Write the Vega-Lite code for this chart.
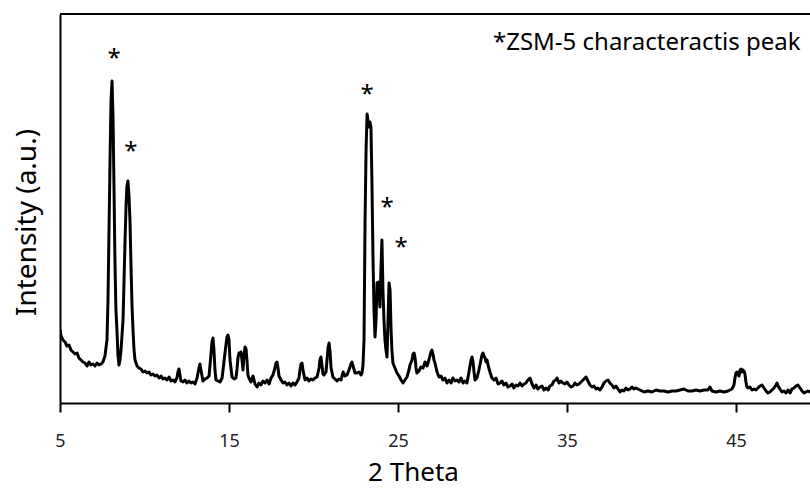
{
  "$schema": "https://vega.github.io/schema/vega-lite/v6.json",
  "width": 750,
  "height": 389,
  "autosize": {"type": "none"},
  "padding": {"left": 60, "top": 14, "right": 0, "bottom": 85},
  "background": "white",
  "config": {"view": {"stroke": null}, "font": "Noto Sans"},
  "datasets": {
    "xrd": [
      {"t":5.00,"i":73},{"t":5.06,"i":67},{"t":5.18,"i":63},{"t":5.30,"i":61},{"t":5.41,"i":57},{"t":5.53,"i":58},{"t":5.65,"i":53},{"t":5.77,"i":51},{"t":5.89,"i":49},{"t":6.01,"i":50},{"t":6.12,"i":45},{"t":6.24,"i":43},{"t":6.36,"i":41},{"t":6.48,"i":40},{"t":6.60,"i":37},{"t":6.72,"i":41},{"t":6.83,"i":38},{"t":6.95,"i":39},{"t":7.07,"i":37},{"t":7.19,"i":40},{"t":7.31,"i":38},{"t":7.43,"i":39},{"t":7.54,"i":41},{"t":7.66,"i":47},{"t":7.78,"i":63},{"t":7.84,"i":103},{"t":7.90,"i":173},{"t":7.96,"i":243},{"t":8.02,"i":303},{"t":8.08,"i":322},{"t":8.14,"i":283},{"t":8.20,"i":210},{"t":8.25,"i":143},{"t":8.31,"i":93},{"t":8.37,"i":73},{"t":8.43,"i":48},{"t":8.49,"i":38},{"t":8.55,"i":43},{"t":8.61,"i":53},{"t":8.67,"i":68},{"t":8.73,"i":83},{"t":8.79,"i":123},{"t":8.85,"i":163},{"t":8.91,"i":198},{"t":8.96,"i":217},{"t":9.02,"i":222},{"t":9.08,"i":208},{"t":9.14,"i":183},{"t":9.20,"i":138},{"t":9.26,"i":98},{"t":9.32,"i":73},{"t":9.38,"i":53},{"t":9.44,"i":43},{"t":9.56,"i":37},{"t":9.67,"i":35},{"t":9.79,"i":34},{"t":9.91,"i":31},{"t":10.03,"i":32},{"t":10.15,"i":30},{"t":10.27,"i":31},{"t":10.38,"i":28},{"t":10.50,"i":29},{"t":10.62,"i":27},{"t":10.74,"i":28},{"t":10.86,"i":25},{"t":10.98,"i":27},{"t":11.09,"i":24},{"t":11.21,"i":25},{"t":11.33,"i":23},{"t":11.45,"i":26},{"t":11.57,"i":22},{"t":11.69,"i":23},{"t":11.80,"i":21},{"t":11.92,"i":25},{"t":11.98,"i":31},{"t":12.04,"i":34},{"t":12.10,"i":28},{"t":12.16,"i":22},{"t":12.28,"i":21},{"t":12.40,"i":23},{"t":12.51,"i":20},{"t":12.63,"i":22},{"t":12.75,"i":20},{"t":12.87,"i":21},{"t":12.99,"i":19},{"t":13.11,"i":25},{"t":13.22,"i":35},{"t":13.28,"i":39},{"t":13.34,"i":33},{"t":13.46,"i":22},{"t":13.58,"i":24},{"t":13.70,"i":25},{"t":13.82,"i":27},{"t":13.93,"i":48},{"t":13.99,"i":61},{"t":14.05,"i":65},{"t":14.11,"i":53},{"t":14.17,"i":33},{"t":14.23,"i":23},{"t":14.35,"i":22},{"t":14.47,"i":21},{"t":14.59,"i":25},{"t":14.70,"i":41},{"t":14.82,"i":58},{"t":14.88,"i":66},{"t":14.94,"i":68},{"t":15.00,"i":63},{"t":15.06,"i":43},{"t":15.18,"i":26},{"t":15.30,"i":24},{"t":15.41,"i":25},{"t":15.47,"i":33},{"t":15.53,"i":45},{"t":15.59,"i":50},{"t":15.65,"i":48},{"t":15.71,"i":51},{"t":15.77,"i":43},{"t":15.83,"i":33},{"t":15.89,"i":48},{"t":15.95,"i":56},{"t":16.01,"i":54},{"t":16.07,"i":41},{"t":16.12,"i":28},{"t":16.18,"i":25},{"t":16.30,"i":21},{"t":16.42,"i":27},{"t":16.54,"i":19},{"t":16.66,"i":16},{"t":16.78,"i":20},{"t":16.89,"i":18},{"t":17.01,"i":22},{"t":17.13,"i":20},{"t":17.25,"i":23},{"t":17.37,"i":19},{"t":17.49,"i":25},{"t":17.60,"i":28},{"t":17.72,"i":35},{"t":17.78,"i":40},{"t":17.84,"i":41},{"t":17.90,"i":35},{"t":17.96,"i":27},{"t":18.08,"i":23},{"t":18.20,"i":20},{"t":18.31,"i":21},{"t":18.43,"i":18},{"t":18.55,"i":20},{"t":18.67,"i":17},{"t":18.79,"i":20},{"t":18.91,"i":18},{"t":19.02,"i":21},{"t":19.14,"i":25},{"t":19.20,"i":33},{"t":19.26,"i":39},{"t":19.32,"i":40},{"t":19.38,"i":33},{"t":19.50,"i":23},{"t":19.62,"i":25},{"t":19.73,"i":22},{"t":19.85,"i":24},{"t":19.97,"i":23},{"t":20.09,"i":25},{"t":20.21,"i":26},{"t":20.33,"i":35},{"t":20.38,"i":43},{"t":20.44,"i":46},{"t":20.50,"i":38},{"t":20.56,"i":29},{"t":20.62,"i":28},{"t":20.74,"i":31},{"t":20.80,"i":43},{"t":20.86,"i":55},{"t":20.92,"i":60},{"t":20.98,"i":51},{"t":21.04,"i":35},{"t":21.15,"i":26},{"t":21.27,"i":24},{"t":21.39,"i":22},{"t":21.51,"i":24},{"t":21.63,"i":23},{"t":21.75,"i":31},{"t":21.86,"i":27},{"t":21.98,"i":28},{"t":22.10,"i":33},{"t":22.22,"i":39},{"t":22.28,"i":41},{"t":22.34,"i":37},{"t":22.46,"i":30},{"t":22.57,"i":30},{"t":22.69,"i":31},{"t":22.81,"i":28},{"t":22.87,"i":30},{"t":22.93,"i":38},{"t":22.99,"i":63},{"t":23.05,"i":180},{"t":23.11,"i":253},{"t":23.17,"i":289},{"t":23.22,"i":283},{"t":23.28,"i":276},{"t":23.34,"i":281},{"t":23.40,"i":276},{"t":23.46,"i":220},{"t":23.52,"i":146},{"t":23.58,"i":93},{"t":23.64,"i":66},{"t":23.70,"i":83},{"t":23.76,"i":120},{"t":23.82,"i":121},{"t":23.88,"i":113},{"t":23.93,"i":96},{"t":23.99,"i":133},{"t":24.05,"i":163},{"t":24.11,"i":113},{"t":24.17,"i":83},{"t":24.23,"i":63},{"t":24.29,"i":53},{"t":24.35,"i":46},{"t":24.41,"i":83},{"t":24.47,"i":120},{"t":24.53,"i":113},{"t":24.59,"i":73},{"t":24.64,"i":53},{"t":24.70,"i":40},{"t":24.82,"i":35},{"t":24.94,"i":30},{"t":25.06,"i":27},{"t":25.18,"i":23},{"t":25.30,"i":20},{"t":25.41,"i":23},{"t":25.53,"i":26},{"t":25.65,"i":33},{"t":25.71,"i":38},{"t":25.83,"i":43},{"t":25.89,"i":49},{"t":25.95,"i":50},{"t":26.01,"i":45},{"t":26.07,"i":35},{"t":26.12,"i":30},{"t":26.24,"i":32},{"t":26.36,"i":36},{"t":26.48,"i":35},{"t":26.60,"i":41},{"t":26.72,"i":37},{"t":26.83,"i":43},{"t":26.95,"i":51},{"t":27.01,"i":53},{"t":27.07,"i":49},{"t":27.13,"i":43},{"t":27.19,"i":40},{"t":27.31,"i":31},{"t":27.43,"i":26},{"t":27.54,"i":27},{"t":27.66,"i":23},{"t":27.78,"i":25},{"t":27.90,"i":20},{"t":28.02,"i":23},{"t":28.14,"i":20},{"t":28.25,"i":25},{"t":28.37,"i":22},{"t":28.49,"i":23},{"t":28.61,"i":21},{"t":28.73,"i":25},{"t":28.85,"i":20},{"t":28.96,"i":22},{"t":29.08,"i":20},{"t":29.20,"i":31},{"t":29.32,"i":43},{"t":29.38,"i":46},{"t":29.44,"i":41},{"t":29.50,"i":31},{"t":29.56,"i":23},{"t":29.67,"i":25},{"t":29.79,"i":33},{"t":29.91,"i":43},{"t":29.97,"i":48},{"t":30.03,"i":50},{"t":30.09,"i":47},{"t":30.15,"i":45},{"t":30.21,"i":41},{"t":30.27,"i":43},{"t":30.33,"i":38},{"t":30.44,"i":31},{"t":30.56,"i":25},{"t":30.68,"i":23},{"t":30.80,"i":25},{"t":30.92,"i":19},{"t":31.04,"i":20},{"t":31.15,"i":22},{"t":31.27,"i":18},{"t":31.39,"i":20},{"t":31.51,"i":16},{"t":31.63,"i":17},{"t":31.75,"i":19},{"t":31.86,"i":15},{"t":31.98,"i":18},{"t":32.10,"i":17},{"t":32.22,"i":20},{"t":32.34,"i":17},{"t":32.46,"i":19},{"t":32.57,"i":20},{"t":32.69,"i":23},{"t":32.81,"i":25},{"t":32.93,"i":19},{"t":33.05,"i":15},{"t":33.17,"i":18},{"t":33.28,"i":14},{"t":33.40,"i":16},{"t":33.52,"i":17},{"t":33.64,"i":13},{"t":33.76,"i":15},{"t":33.88,"i":13},{"t":33.99,"i":17},{"t":34.11,"i":18},{"t":34.23,"i":22},{"t":34.35,"i":23},{"t":34.41,"i":25},{"t":34.53,"i":20},{"t":34.64,"i":22},{"t":34.76,"i":20},{"t":34.88,"i":19},{"t":35.00,"i":21},{"t":35.12,"i":18},{"t":35.24,"i":16},{"t":35.36,"i":17},{"t":35.47,"i":20},{"t":35.59,"i":18},{"t":35.71,"i":19},{"t":35.83,"i":21},{"t":35.95,"i":23},{"t":36.07,"i":25},{"t":36.12,"i":26},{"t":36.24,"i":22},{"t":36.36,"i":18},{"t":36.48,"i":16},{"t":36.60,"i":17},{"t":36.72,"i":14},{"t":36.83,"i":15},{"t":36.95,"i":13},{"t":37.07,"i":16},{"t":37.19,"i":20},{"t":37.31,"i":22},{"t":37.43,"i":23},{"t":37.54,"i":20},{"t":37.66,"i":18},{"t":37.78,"i":15},{"t":37.90,"i":17},{"t":38.02,"i":14},{"t":38.14,"i":11},{"t":38.25,"i":13},{"t":38.37,"i":12},{"t":38.49,"i":15},{"t":38.61,"i":13},{"t":38.73,"i":14},{"t":38.85,"i":16},{"t":38.96,"i":14},{"t":39.08,"i":15},{"t":39.32,"i":13},{"t":39.56,"i":11},{"t":39.79,"i":12},{"t":40.03,"i":11},{"t":40.27,"i":13},{"t":40.50,"i":12},{"t":40.74,"i":12},{"t":40.98,"i":11},{"t":41.21,"i":12},{"t":41.45,"i":12},{"t":41.69,"i":13},{"t":41.92,"i":14},{"t":42.16,"i":12},{"t":42.40,"i":12},{"t":42.63,"i":13},{"t":42.87,"i":12},{"t":43.11,"i":13},{"t":43.34,"i":13},{"t":43.46,"i":16},{"t":43.58,"i":12},{"t":43.82,"i":11},{"t":44.05,"i":12},{"t":44.29,"i":11},{"t":44.53,"i":12},{"t":44.64,"i":13},{"t":44.76,"i":14},{"t":44.88,"i":18},{"t":44.94,"i":25},{"t":45.00,"i":30},{"t":45.06,"i":31},{"t":45.12,"i":29},{"t":45.18,"i":27},{"t":45.24,"i":33},{"t":45.30,"i":34},{"t":45.36,"i":31},{"t":45.41,"i":33},{"t":45.47,"i":32},{"t":45.53,"i":29},{"t":45.59,"i":21},{"t":45.65,"i":16},{"t":45.71,"i":15},{"t":45.83,"i":16},{"t":45.95,"i":13},{"t":46.07,"i":14},{"t":46.18,"i":13},{"t":46.30,"i":15},{"t":46.42,"i":17},{"t":46.54,"i":18},{"t":46.66,"i":15},{"t":46.78,"i":12},{"t":46.89,"i":10},{"t":47.01,"i":11},{"t":47.13,"i":13},{"t":47.25,"i":15},{"t":47.37,"i":18},{"t":47.43,"i":20},{"t":47.49,"i":17},{"t":47.60,"i":14},{"t":47.72,"i":11},{"t":47.84,"i":12},{"t":47.96,"i":10},{"t":48.08,"i":13},{"t":48.20,"i":10},{"t":48.31,"i":14},{"t":48.43,"i":15},{"t":48.55,"i":17},{"t":48.67,"i":18},{"t":48.79,"i":15},{"t":48.91,"i":12},{"t":49.03,"i":10},{"t":49.14,"i":11},{"t":49.26,"i":12},{"t":49.38,"i":11},{"t":49.60,"i":12},{"t":50.00,"i":11}
    ],
    "stars": [
      {"t":8.20,"i":337,"label":"*"},
      {"t":9.20,"i":244,"label":"*"},
      {"t":23.17,"i":301,"label":"*"},
      {"t":24.35,"i":188,"label":"*"},
      {"t":25.18,"i":148,"label":"*"}
    ],
    "note": [
      {"t":30.62,"i":353,"label":"*ZSM-5 characteractis peak"}
    ],
    "frame": [
      {"top":389}
    ]
  },
  "layer": [
    {
      "data": {"name": "xrd"},
      "mark": {"type": "line", "color": "black", "strokeWidth": 3, "clip": true, "strokeJoin": "round"},
      "encoding": {
        "x": {
          "field": "t", "type": "quantitative",
          "scale": {"domain": [5, 49.38], "nice": false, "zero": false},
          "axis": {
            "values": [5, 15, 25, 35, 45],
            "grid": false,
            "domainColor": "black", "domainWidth": 2,
            "tickColor": "black", "tickWidth": 2, "tickSize": 9,
            "labelFont": "Noto Sans", "labelFontSize": 18, "labelColor": "#222",
            "labelPadding": 20, "labelFlush": false,
            "title": "2 Theta",
            "titleFont": "Noto Sans", "titleFontSize": 26, "titleFontWeight": "normal", "titleColor": "black",
            "titleX": 353, "titleY": 77, "titleAlign": "center", "titleBaseline": "alphabetic"
          }
        },
        "y": {
          "field": "i", "type": "quantitative",
          "scale": {"domain": [0, 389], "nice": false, "zero": true},
          "axis": {
            "grid": false, "ticks": false, "labels": false,
            "domainColor": "black", "domainWidth": 2,
            "title": "Intensity (a.u.)",
            "titleFont": "Noto Sans", "titleFontSize": 28, "titleFontWeight": "normal", "titleColor": "black",
            "titleAngle": -90, "titleX": -25, "titleY": 208, "titleAlign": "center", "titleBaseline": "alphabetic"
          }
        }
      }
    },
    {
      "data": {"name": "frame"},
      "mark": {"type": "rule", "color": "black", "strokeWidth": 2},
      "encoding": {"y": {"field": "top", "type": "quantitative"}}
    },
    {
      "data": {"name": "stars"},
      "mark": {"type": "text", "font": "Noto Sans", "fontSize": 24, "color": "black", "baseline": "alphabetic", "align": "center"},
      "encoding": {
        "x": {"field": "t", "type": "quantitative"},
        "y": {"field": "i", "type": "quantitative"},
        "text": {"field": "label"}
      }
    },
    {
      "data": {"name": "note"},
      "mark": {"type": "text", "font": "Noto Sans", "fontSize": 24, "color": "black", "baseline": "alphabetic", "align": "left"},
      "encoding": {
        "x": {"field": "t", "type": "quantitative"},
        "y": {"field": "i", "type": "quantitative"},
        "text": {"field": "label"}
      }
    }
  ]
}
